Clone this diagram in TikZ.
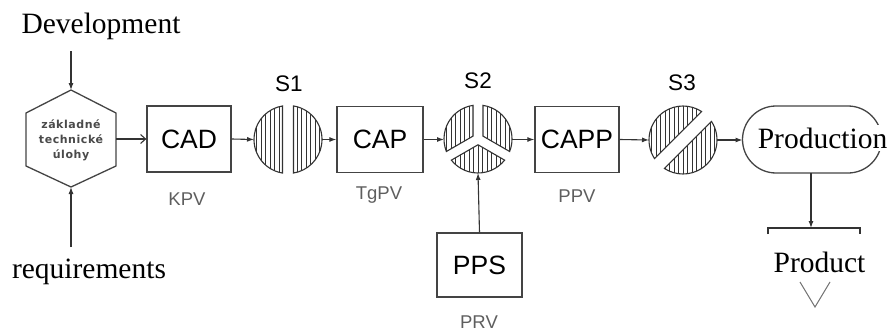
\documentclass[tikz,border=0pt]{standalone}
\usepackage{fontspec}
\setmainfont{Liberation Serif}
\setsansfont{Liberation Sans}
\newfontfamily\hexfont[LetterSpace=5]{DejaVu Sans}
\usetikzlibrary{arrows.meta}
\definecolor{linegray}{HTML}{333333}
\definecolor{boxgray}{HTML}{444444}
\definecolor{labelgray}{HTML}{5E5E5E}
\definecolor{hextext}{HTML}{4A4A4A}
\definecolor{vgray}{HTML}{707070}
\newcommand{\hatchpiece}[1]{%
  \begin{scope}
    \clip #1;
    \foreach \hx in {-36,-31.5,...,36}{\draw[hatch] (\hx,-40) -- (\hx,40);}
  \end{scope}
  \draw[piece] #1;}
\tikzset{
  conn/.style={draw=linegray, line width=1.1pt},
  arr/.style={conn, -{Latex[length=7pt,width=5pt]}},
  openarr/.style={conn, -{Straight Barb[length=5pt,width=9pt,line width=1.1pt]}},
  box/.style={draw=boxgray, line width=1.3pt, minimum height=66pt, inner sep=0pt,
    font=\sffamily\fontsize{26.5}{28}\selectfont},
  lbl/.style={text=labelgray, anchor=base, inner sep=0pt, font=\sffamily\fontsize{18.5}{20}\selectfont},
  sname/.style={anchor=base, inner sep=0pt, font=\sffamily\fontsize{22.5}{24}\selectfont},
  big/.style={anchor=base, inner sep=0pt, font=\fontsize{29.5}{32}\selectfont},
  hatch/.style={draw=linegray, line width=0.85pt},
  piece/.style={draw=linegray, line width=1.1pt},
  hexline/.style={draw=boxgray, line width=1.3pt},
}
\begin{document}
\begin{tikzpicture}[x=1pt,y=-1pt]
\useasboundingbox[fill=white] (0,0) rectangle (892,332);

% top/bottom texts
\node[big] (dev) at (101,33) {Development};
\node[big] (req) at (89,278) {requirements};

% hexagon
\draw[hexline] (71,90) -- (116,113) -- (116,166) -- (71,187) -- (26,166) -- (26,113) -- cycle;
\node[align=center, text=hextext, inner sep=0pt,
      font=\hexfont\bfseries\fontsize{11}{15}\selectfont] (hex) at (71,140)
      {základné\\technické\\úlohy};
\coordinate (hexn) at (71,90);
\coordinate (hexs) at (71,187);
\coordinate (hexe) at (116,139);
\coordinate (devend) at (71,51);
\coordinate (reqend) at (71,247);

% boxes
\node[box, minimum width=84pt] (cad) at (189,139) {CAD};
\node[box, minimum width=86pt] (cap) at (380,139.5) {CAP};
\node[box, minimum width=84pt] (capp) at (577,139.5) {CAPP};
\node[box, minimum width=85pt, minimum height=64pt] (pps) at (479.5,265) {PPS};

\node[lbl] (kpv) at (187,205) {KPV};
\node[lbl] (tgpv) at (379,199) {TgPV};
\node[lbl] (ppv) at (577,202) {PPV};
\node[lbl] (prv) at (479,328) {PRV};

% S1
\node[sname] (s1) at (289,91) {S1};
\begin{scope}[shift={(288,139.5)}]
  \hatchpiece{(99.31:34) arc[start angle=99.31,end angle=260.69,radius=34] -- cycle}
  \hatchpiece{(-80.69:34) arc[start angle=-80.69,end angle=80.69,radius=34] -- cycle}
\end{scope}
\coordinate (s1w) at (254,139.5);
\coordinate (s1e) at (322,139.5);

% S2
\node[sname] (s2) at (478,88) {S2};
\begin{scope}[shift={(478,139)}]
  \hatchpiece{(210:5.77) -- (158.46:34) arc[start angle=158.46,end angle=261.54,radius=34] -- cycle}
  \hatchpiece{(330:5.77) -- (278.46:34) arc[start angle=278.46,end angle=381.54,radius=34] -- cycle}
  \hatchpiece{(90:5.77) -- (38.46:34) arc[start angle=38.46,end angle=141.54,radius=34] -- cycle}
\end{scope}
\coordinate (s2w) at (444,139.5);
\coordinate (s2e) at (512,139.5);
\coordinate (s2s) at (478,173);

% S3
\node[sname] (s3) at (682,90) {S3};
\begin{scope}[shift={(683,140)}]
  \hatchpiece{(146.88:34) arc[start angle=146.88,end angle=303.12,radius=34] -- cycle}
  \hatchpiece{(-33.12:34) arc[start angle=-33.12,end angle=123.12,radius=34] -- cycle}
\end{scope}
\coordinate (s3w) at (649,140);
\coordinate (s3e) at (717,140);

% Production
\draw[hexline] (776,106) -- (848,106) arc[start angle=270,end angle=450,radius=33.5]
  -- (776,173) arc[start angle=90,end angle=270,radius=33.5] -- cycle;
\node[big, fill=white, inner ysep=3pt] (production) at (822.5,148) {Production};
\coordinate (prodw) at (742.5,140);
\coordinate (prods) at (811,173);
\coordinate (brk) at (811,228);

% Product
\draw[conn] (768,234) -- (768,228) -- (860,228) -- (860,234);
\node[big] (product) at (819.5,272) {Product};
\draw[draw=vgray, line width=1pt] (800,282) -- (815,307) -- (830,282);

% connectors
\draw[arr] (devend) -- (hexn);
\draw[arr] (reqend) -- (hexs);
\draw[openarr] (hexe) -- (cad.west);
\draw[arr] (cad.east) -- (s1w);
\draw[arr] (s1e) -- (cap.west);
\draw[arr] (cap.east) -- (s2w);
\draw[arr] (s2e) -- (capp.west);
\draw[arr] (pps.north) -- (s2s);
\draw[arr] (capp.east) -- (s3w);
\draw[arr] (s3e) -- (prodw);
\draw[arr] (prods) -- (brk);
\end{tikzpicture}
\end{document}
